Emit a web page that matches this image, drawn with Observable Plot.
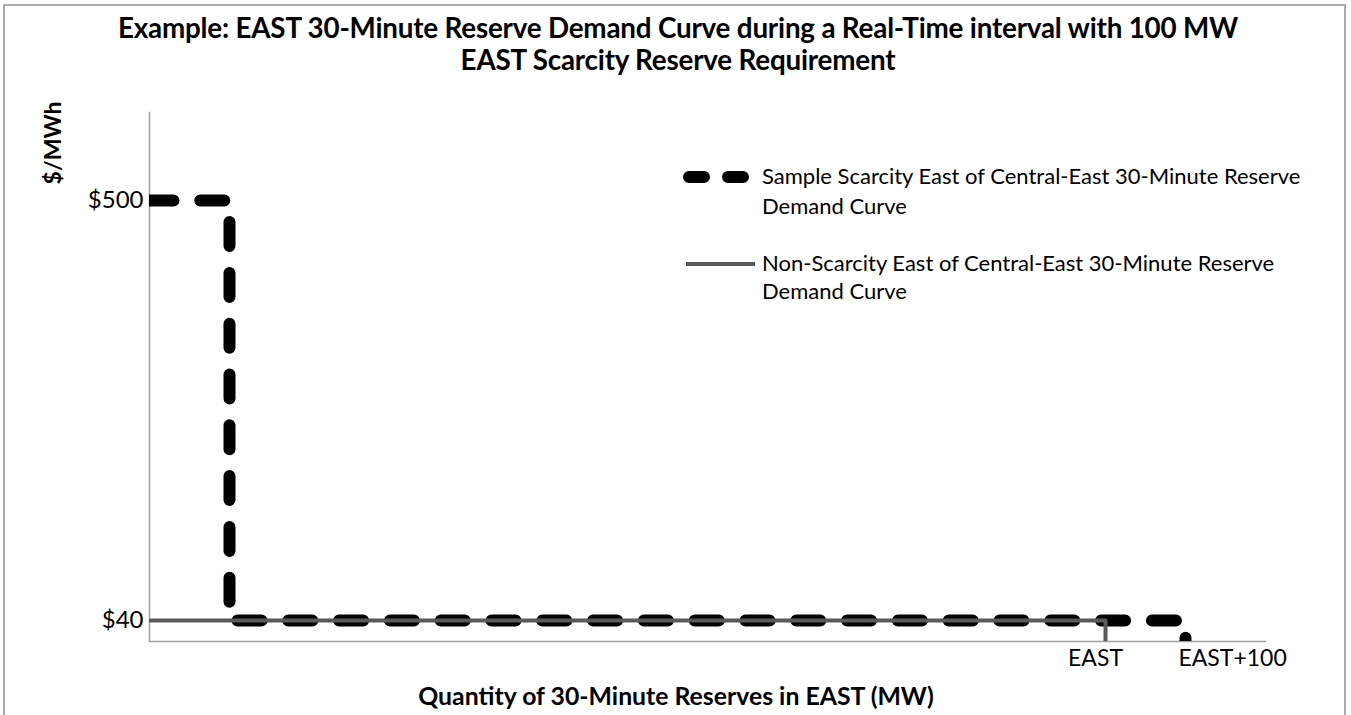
<!DOCTYPE html>
<html>
<head>
<meta charset="utf-8">
<script src="https://cdn.jsdelivr.net/npm/d3@7"></script>
<script src="https://cdn.jsdelivr.net/npm/@observablehq/plot@0.6"></script>
<style>
  html, body { margin: 0; padding: 0; background: #fff; }
  #wrap { position: relative; width: 1351px; height: 715px; overflow: hidden; font-family: Lato, "DejaVu Sans", sans-serif; color: #000; }
  #border { position: absolute; left: 3px; top: 4px; width: 1343px; height: 760px; border: 2px solid #ababab; box-sizing: border-box; }
  .t { position: absolute; white-space: nowrap; line-height: 1; }
  #title1, #title2 { left: 0; width: 1356px; text-align: center; font-weight: bold; font-size: 27.8px; letter-spacing: -0.2px; }
  #title1 { top: 14px; }
  #title2 { top: 46px; }
  #ytitle { font-weight: bold; font-size: 23px; left: 52px; top: 143px; transform: translate(-50%, -50%) rotate(-90deg); }
  #xtitle { font-weight: bold; font-size: 24.8px; left: 0; width: 1352px; text-align: center; top: 684px; }
  .leg { font-size: 22px; left: 762px; }
  svg.plot { position: absolute; left: 0; top: 0; }
  svg.legsym { position: absolute; left: 0; top: 0; }
</style>
</head>
<body>
<div id="wrap">
  <div id="border"></div>
  <div id="title1" class="t">Example: EAST 30-Minute Reserve Demand Curve during a Real-Time interval with 100 MW</div>
  <div id="title2" class="t">EAST Scarcity Reserve Requirement</div>
  <div id="ytitle" class="t">$/MWh</div>
  <div id="xtitle" class="t">Quantity of 30-Minute Reserves in EAST (MW)</div>
  <div class="t leg" style="top:165px">Sample Scarcity East of Central-East 30-Minute Reserve</div>
  <div class="t leg" style="top:195px">Demand Curve</div>
  <div class="t leg" style="top:252px">Non-Scarcity East of Central-East 30-Minute Reserve</div>
  <div class="t leg" style="top:280px">Demand Curve</div>
</div>
<script>
// ---- data ----
const seriesNames = [
  "Sample Scarcity East of Central-East 30-Minute Reserve Demand Curve",
  "Non-Scarcity East of Central-East 30-Minute Reserve Demand Curve"
];
// quantity axis: 0 at the y axis, EAST ~ 1195 MW, EAST+100 ~ 1295 MW
const scarcityQty   = [0, 100, 100, 1295, 1295];
const scarcityPrice = [500, 500, 40, 40, 0];
const nonScarcityQty   = [0, 1195, 1195];
const nonScarcityPrice = [40, 40, 0];
const priceTicks      = [40, 500];
const priceTickLabels = ["$40", "$500"];
const qtyTicks      = [1195, 1295];
const qtyTickLabels = ["EAST", "EAST+100"];
const qtyDomain   = [0, 1395];
const priceDomain = [17, 596.4];

const scarcity = scarcityQty.map((q, i) => ({q, p: scarcityPrice[i], s: seriesNames[0]}));
const nonScarcity = nonScarcityQty.map((q, i) => ({q, p: nonScarcityPrice[i], s: seriesNames[1]}));

const plot = Plot.plot({
  width: 1351,
  height: 715,
  marginLeft: 149,
  marginRight: 86,
  marginTop: 112,
  marginBottom: 74,
  style: {fontFamily: "Lato, sans-serif", background: "transparent", color: "#000"},
  x: {domain: qtyDomain},
  y: {domain: priceDomain},
  marks: [
    Plot.frame({anchor: "left", stroke: "#a0a0a0", strokeWidth: 1.5}),
    Plot.frame({anchor: "bottom", stroke: "#a0a0a0", strokeWidth: 1.5}),
    Plot.line(scarcity, {x: "q", y: "p", stroke: "#000", strokeWidth: 12,
      strokeLinecap: "round", strokeLinejoin: "round", strokeDasharray: "24,26.8", clip: true}),
    Plot.line(nonScarcity, {x: "q", y: "p", stroke: "#595959", strokeWidth: 4, clip: true}),
    Plot.axisY(priceTicks, {tickSize: 0, tickPadding: 6, fontSize: 24, label: null,
      tickFormat: d => priceTickLabels[priceTicks.indexOf(d)]}),
    Plot.axisX([qtyTicks[0]], {tickSize: 0, tickPadding: 8, fontSize: 23, label: null, dx: -10,
      tickFormat: d => qtyTickLabels[qtyTicks.indexOf(d)]}),
    Plot.axisX([qtyTicks[1]], {tickSize: 0, tickPadding: 8, fontSize: 23, label: null, dx: -7, textAnchor: "start",
      tickFormat: d => qtyTickLabels[qtyTicks.indexOf(d)]})
  ]
});
plot.classList.add("plot");
document.getElementById("wrap").appendChild(plot);

// legend symbols
const ns = "http://www.w3.org/2000/svg";
const leg = document.createElementNS(ns, "svg");
leg.setAttribute("class", "legsym");
leg.setAttribute("width", 1351);
leg.setAttribute("height", 715);
const l1 = document.createElementNS(ns, "line");
Object.entries({x1: 689, x2: 743, y1: 177, y2: 177, stroke: "#000", "stroke-width": 12,
  "stroke-linecap": "round", "stroke-dasharray": "15,24"}).forEach(([k, v]) => l1.setAttribute(k, v));
const l2 = document.createElementNS(ns, "line");
Object.entries({x1: 686, x2: 755, y1: 264, y2: 264, stroke: "#595959", "stroke-width": 4}).forEach(([k, v]) => l2.setAttribute(k, v));
leg.appendChild(l1); leg.appendChild(l2);
document.getElementById("wrap").appendChild(leg);
</script>
</body>
</html>
